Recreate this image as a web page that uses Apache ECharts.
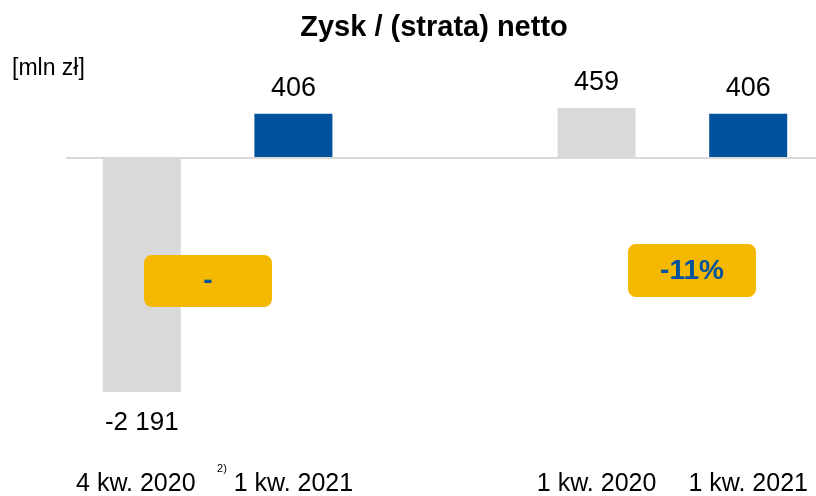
<!DOCTYPE html>
<html>
<head>
<meta charset="utf-8">
<script src="https://cdn.jsdelivr.net/npm/echarts@6/dist/echarts.min.js"></script>
<style>html,body{margin:0;padding:0;background:#fff}#c{width:816px;height:496px}</style>
</head>
<body>
<div id="c"></div>
<script>
var categories = ['4 kw. 2020', '1 kw. 2021', '', '1 kw. 2020', '1 kw. 2021'];
var grayValues = [-2191, null, null, 459, null];
var blueValues = [null, 406, null, null, 406];
var changeLabels = ['-', '-11%'];
var titleText = 'Zysk / (strata) netto';
var unitText = '[mln zł]';
var footnote = '2)';

var FONT = '"Liberation Sans", Arial, sans-serif';
var BLUE = '#00529C';
var GRAY = '#D9D9D9';
var YELLOW = '#F5B800';

function fmt(v) {
  var s = String(Math.abs(v)).replace(/\B(?=(\d{3})+(?!\d))/g, ' ');
  return (v < 0 ? '-' : '') + s;
}
function mkData(arr) {
  return arr.map(function (v) {
    if (v == null) return null;
    if (v < 0) return { value: v, label: { position: 'bottom', distance: 18, fontSize: 26 } };
    return { value: v };
  });
}

var chart = echarts.init(document.getElementById('c'), null, { renderer: 'canvas' });
var option = {
  animation: false,
  backgroundColor: '#fff',
  textStyle: { fontFamily: FONT },
  title: {
    text: titleText, left: 434, top: 13, padding: 0, textAlign: 'center',
    textStyle: { fontFamily: FONT, fontSize: 29, fontWeight: 'bold', color: '#000' }
  },
  grid: { left: 66, width: 758, top: 93, height: 332, outerBoundsMode: 'none', containLabel: false },
  xAxis: {
    type: 'category', data: categories,
    axisLine: { show: false }, axisTick: { show: false },
    axisLabel: {
      margin: 47, color: '#000', fontSize: 25, fontFamily: FONT, interval: 0,
      formatter: function (v, i) { return i === 0 ? '{a|' + v + '}' : v; },
      rich: { a: { fontSize: 25, fontFamily: FONT, color: '#000', padding: [0, 12, 0, 0] } }
    }
  },
  yAxis: {
    type: 'value', min: -2500, max: 600, show: false, splitLine: { show: false }
  },
  series: [
    {
      type: 'bar', name: 'gray', data: mkData(grayValues), barWidth: 78, barGap: '-100%',
      itemStyle: { color: GRAY },
      label: { show: true, position: 'top', distance: 12, fontSize: 27, color: '#000', fontFamily: FONT,
        formatter: function (p) { return fmt(p.value); } },
      markLine: {
        silent: true, symbol: 'none', label: { show: false },
        lineStyle: { color: GRAY, width: 2, type: 'solid' },
        data: [{ yAxis: 0 }]
      },
      z: 2
    },
    {
      type: 'bar', name: 'blue', data: mkData(blueValues), barWidth: 78, barGap: '-100%',
      itemStyle: { color: BLUE },
      label: { show: true, position: 'top', distance: 12, fontSize: 27, color: '#000', fontFamily: FONT,
        formatter: function (p) { return fmt(p.value); } },
      z: 3
    }
  ],
  graphic: [
    { type: 'text', left: 12, top: 57, style: { text: unitText, font: '23px ' + FONT, fill: '#000' } },
    { type: 'text', x: 222, y: 469, style: { text: footnote, font: '11px ' + FONT, fill: '#000', align: 'center', verticalAlign: 'middle' } },
    { type: 'rect', shape: { x: 144, y: 255, width: 128, height: 52, r: 8 }, style: { fill: YELLOW }, z: 10 },
    { type: 'text', x: 208, y: 281, style: { text: changeLabels[0], font: 'bold 28px ' + FONT, fill: BLUE, align: 'center', verticalAlign: 'middle' }, z: 11 },
    { type: 'rect', shape: { x: 628, y: 244, width: 128, height: 53, r: 8 }, style: { fill: YELLOW }, z: 10 },
    { type: 'text', x: 692, y: 271, style: { text: changeLabels[1], font: 'bold 28px ' + FONT, fill: BLUE, align: 'center', verticalAlign: 'middle' }, z: 11 }
  ]
};
chart.setOption(option);
</script>
</body>
</html>
